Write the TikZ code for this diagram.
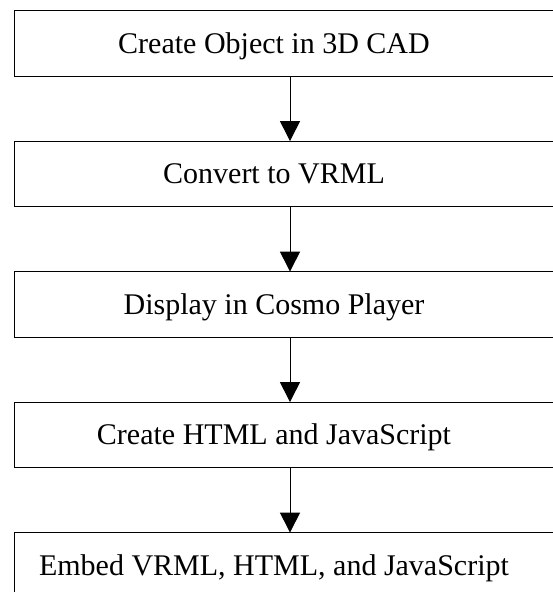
\documentclass[tikz,border=0pt]{standalone}
\usepackage{fontspec}
\setmainfont{Liberation Serif}
\usepackage{xcolor}
\usetikzlibrary{arrows.meta}

\begin{document}
\begin{tikzpicture}[
    x=1pt, y=1pt,
    stage/.style={rectangle, draw=black, line width=1pt, minimum width=552pt, minimum height=65.5pt, inner sep=0pt, outer sep=0pt, anchor=center,
        label={[font=\fontsize{30}{36}\selectfont, text height=20pt, text depth=0pt, xshift=-16pt]center:#1}},
    flow/.style={draw=black, line width=1pt, -{Triangle[length=20pt, width=20pt]}}
]
\useasboundingbox (0,0) rectangle (553,-592);
\clip (0,0) rectangle (553,-592);
\node[stage={Create Object in 3D CAD}] (cad) at (290, -43.35) {};
\node[stage={Convert to VRML}] (vrml) at (290, -173.85) {};
\node[stage={Display in Cosmo Player}] (cosmo) at (290, -304.35) {};
\node[stage={Create HTML and JavaScript}] (html) at (290, -434.85) {};
\node[stage={Embed VRML, HTML, and JavaScript}] (embed) at (290, -565.35) {};
\draw[flow] (cad) -- (vrml);
\draw[flow] (vrml) -- (cosmo);
\draw[flow] (cosmo) -- (html);
\draw[flow] (html) -- (embed);
\end{tikzpicture}
\end{document}
